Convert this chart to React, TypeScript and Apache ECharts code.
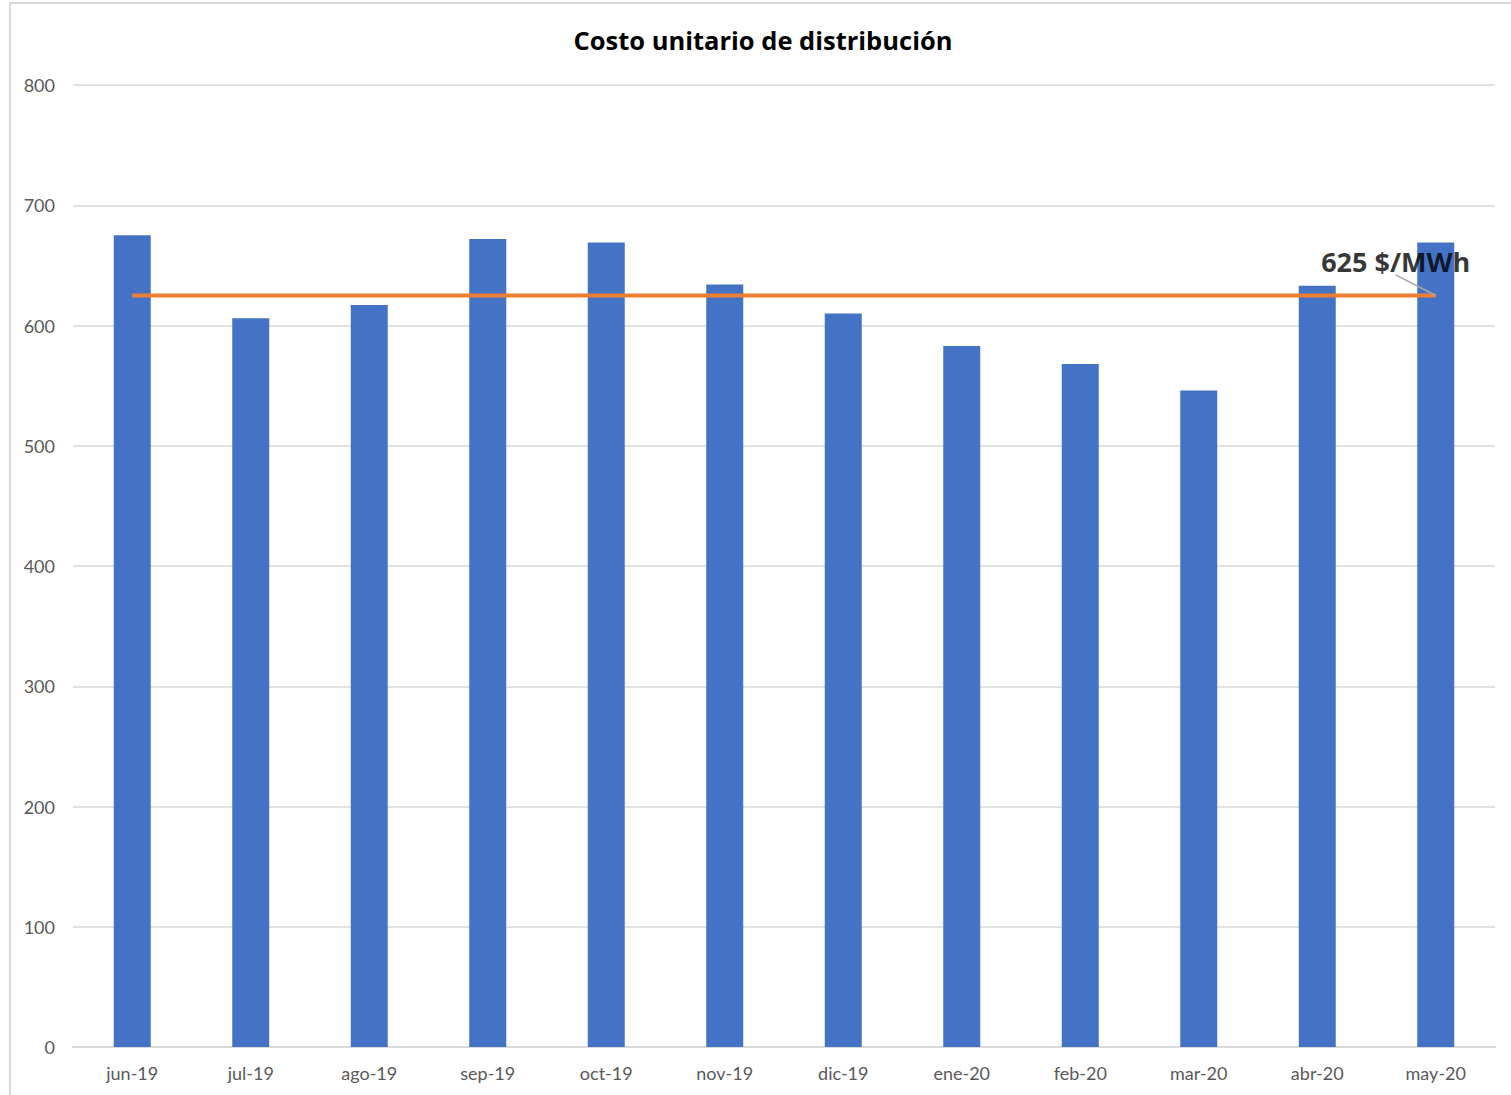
import React, { useEffect, useRef } from "react";
import * as echarts from "echarts";

const categories = ["jun-19", "jul-19", "ago-19", "sep-19", "oct-19", "nov-19", "dic-19", "ene-20", "feb-20", "mar-20", "abr-20", "may-20"];
const costValues = [675, 606, 617, 672, 669, 634, 610, 583, 568, 546, 633, 669];
const averageValues = [625, 625, 625, 625, 625, 625, 625, 625, 625, 625, 625, 625];
const averageLabel = "625 $/MWh";
const titleText = "Costo unitario de distribución";

export default function App() {
  const ref = useRef<HTMLDivElement>(null);
  useEffect(() => {
    if (!ref.current) return;
    const chart = echarts.init(ref.current, undefined, { renderer: "svg" });
    const font = "Lato, 'Open Sans', sans-serif";
    const last = averageValues.length - 1;
    chart.setOption({
      animation: false,
      backgroundColor: "#ffffff",
      title: {
        text: titleText,
        left: 758,
        top: 22,
        textAlign: "center",
        textStyle: { fontFamily: "'Open Sans', sans-serif", fontWeight: "bold", fontSize: 25.5, color: "#000000" },
      },
      graphic: [
        {
          type: "rect",
          shape: { x: 10, y: 3, width: 1520, height: 1120 },
          style: { fill: "none", stroke: "#d9d9d9", lineWidth: 2 },
          silent: true,
        },
      ],
      grid: { left: 73, right: 16, top: 85, bottom: 48, containLabel: false },
      xAxis: {
        type: "category",
        data: categories,
        axisLine: { show: true, lineStyle: { color: "#d9d9d9", width: 2 } },
        axisTick: { show: false },
        axisLabel: { color: "#595959", fontSize: 18, fontFamily: font, margin: 17 },
      },
      yAxis: {
        type: "value",
        min: 0,
        max: 800,
        interval: 100,
        axisLine: { show: false },
        axisTick: { show: false },
        splitLine: { lineStyle: { color: "#d9d9d9", width: 1.5 } },
        axisLabel: { color: "#595959", fontSize: 18, fontFamily: font, margin: 18 },
      },
      series: [
        {
          type: "bar",
          data: costValues,
          barWidth: 37,
          itemStyle: { color: "#4472C4" },
        },
        {
          type: "line",
          data: averageValues,
          symbol: "none",
          showSymbol: false,
          lineStyle: { color: "#ED7D31", width: 4 },
          z: 5,
        },
        {
          type: "scatter",
          data: [[categories[last], averageValues[last]]],
          symbolSize: 1,
          itemStyle: { color: "rgba(0,0,0,0)" },
          label: {
            show: true,
            formatter: averageLabel,
            position: "top",
            distance: 5,
            fontSize: 27,
            fontWeight: "bold",
            fontFamily: "'Open Sans', sans-serif",
            color: "#000000",
          },
          labelLayout: { dx: -40, dy: -15 },
          labelLine: { show: true, lineStyle: { color: "#a6a6a6", width: 1.5 } },
          z: 6,
        },
      ],
    });
    return () => chart.dispose();
  }, []);
  return <div ref={ref} style={{ position: "fixed", left: 0, top: 0, width: 1511, height: 1095 }} />;
}
